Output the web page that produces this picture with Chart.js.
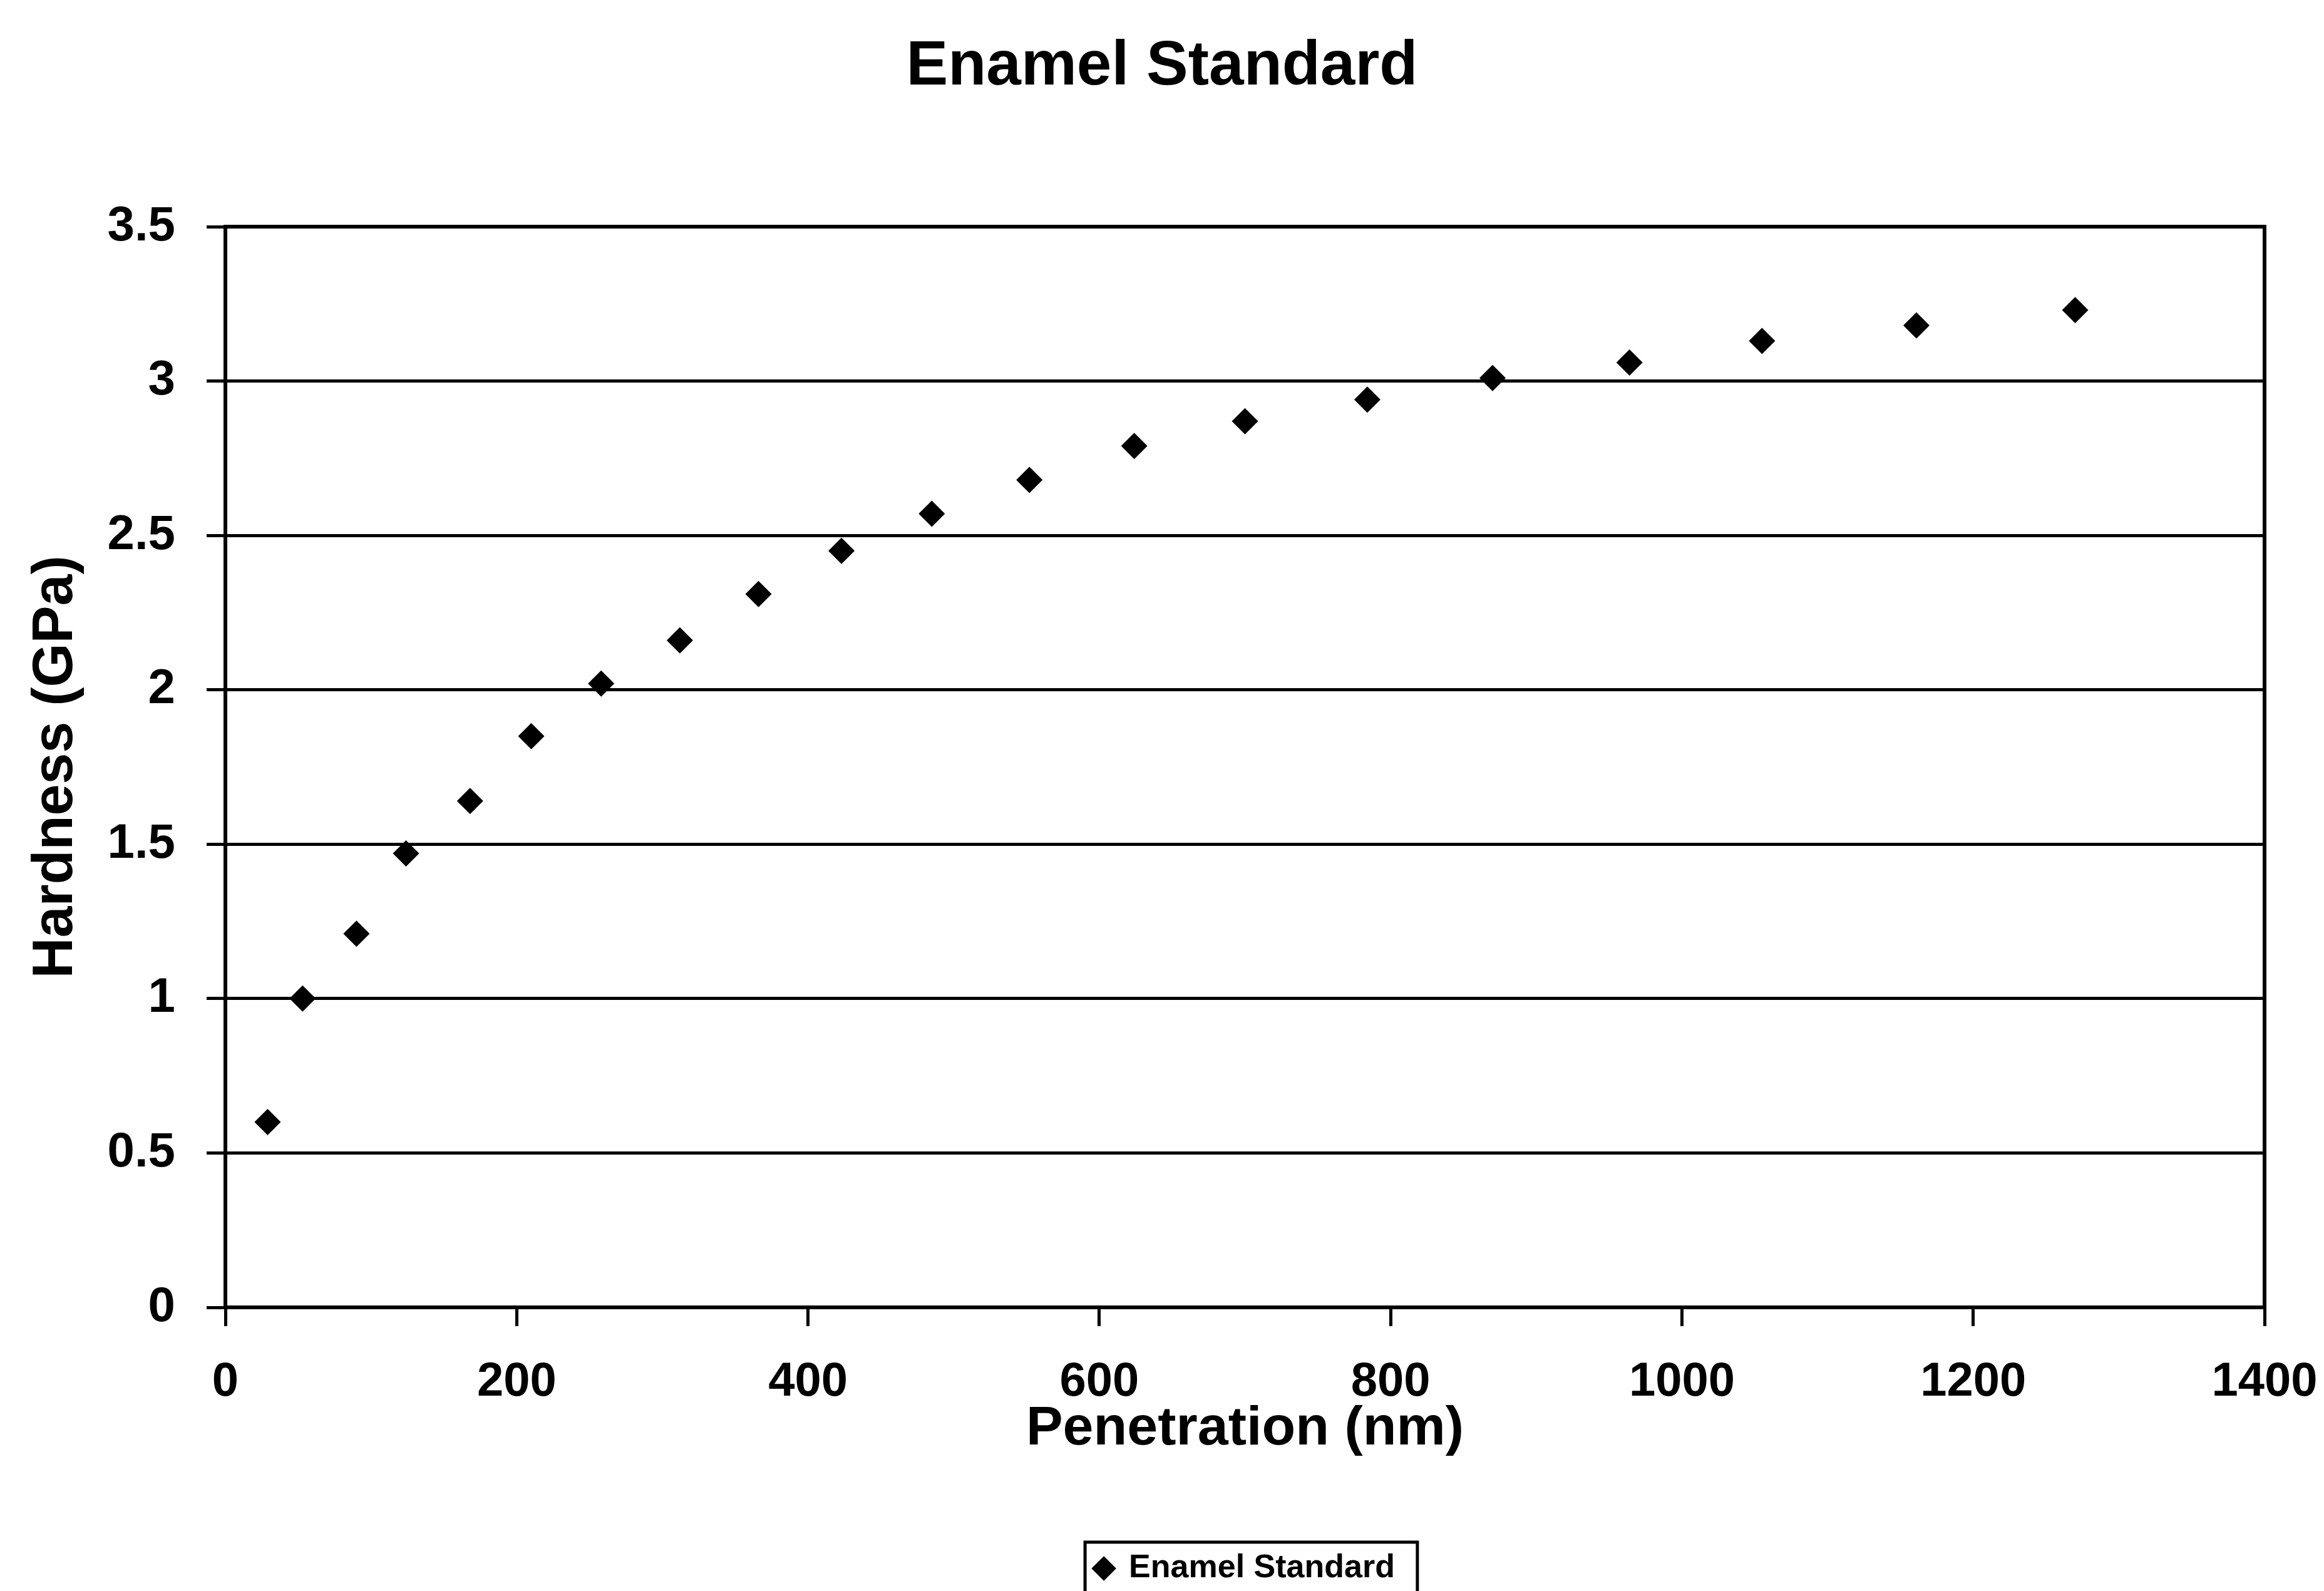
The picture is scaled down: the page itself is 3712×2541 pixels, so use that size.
<!DOCTYPE html>
<html>
<head>
<meta charset="utf-8">
<script src="https://cdn.jsdelivr.net/npm/chart.js@4/dist/chart.umd.min.js"></script>
<style>
  html, body { margin: 0; padding: 0; background: #fff; }
  canvas { display: block; }
</style>
</head>
<body>
<canvas id="chart" width="3712" height="2541"></canvas>
<script>
// values
const penetration = [29, 53, 90, 124, 168, 210, 258, 312, 366, 423, 485, 552, 624, 700, 784, 870, 964, 1055, 1161, 1270];
const hardness = [0.60, 1.00, 1.21, 1.47, 1.64, 1.85, 2.02, 2.16, 2.31, 2.45, 2.57, 2.68, 2.79, 2.87, 2.94, 3.01, 3.06, 3.13, 3.18, 3.23];
const xTicks = [0, 200, 400, 600, 800, 1000, 1200, 1400];
const yTicks = [0, 0.5, 1, 1.5, 2, 2.5, 3, 3.5];

const FONT = "'Liberation Sans', Arial, sans-serif";

// box around the plot area and around the legend item
const frames = {
    id: "frames",
    afterDraw: (chart) => {
        const ctx = chart.ctx;
        const a = chart.chartArea;
        ctx.save();
        ctx.strokeStyle = "#000";
        ctx.lineWidth = 6;
        ctx.strokeRect(a.left, a.top, a.right - a.left, a.bottom - a.top);

        const hb = chart.legend.legendHitBoxes[0];
        if (hb) {
            ctx.lineWidth = 5;
            ctx.strokeRect(hb.left - 16, hb.top - 16, hb.width + 52, chart.height - hb.top + 30);
        }
        ctx.restore();
    },
};

new Chart(document.getElementById("chart").getContext("2d"), {
    type: "scatter",
    data: {
        datasets: [{
            label: "Enamel Standard",
            data: penetration.map((x, i) => ({ x: x, y: hardness[i] })),
            backgroundColor: "#000",
            borderColor: "#000",
            borderWidth: 0,
            pointStyle: "rectRot",
            pointRadius: 21,
        }],
    },
    options: {
        responsive: false,
        animation: false,
        layout: {
            padding: 0,
        },
        plugins: {
            title: {
                display: true,
                text: "Enamel Standard",
                color: "#000",
                font: { family: FONT, size: 100, weight: "bold" },
                padding: { top: 47, bottom: 195 },
            },
            legend: {
                position: "bottom",
                fullSize: false,
                labels: {
                    color: "#000",
                    font: { family: FONT, size: 52, weight: "bold" },
                    usePointStyle: true,
                    pointStyle: "rectRot",
                    boxWidth: 28,
                    boxHeight: 28,
                    padding: 143,
                },
            },
            tooltip: { enabled: false },
        },
        scales: {
            x: {
                type: "linear",
                min: 0,
                max: 1400,
                afterBuildTicks: (scale) => {
                    scale.ticks = xTicks.map(v => ({ value: v }));
                },
                afterFit: (scale) => {
                    scale.height = 248;
                    scale.paddingLeft = 0;
                    scale.paddingRight = 95;
                },
                ticks: {
                    color: "#000",
                    font: { family: FONT, size: 76, weight: "bold" },
                    padding: 44,
                    callback: (v) => String(v),
                },
                grid: {
                    drawOnChartArea: false,
                    color: "#000",
                    lineWidth: 5,
                    tickLength: 30,
                },
                border: { color: "#000", width: 6 },
                title: {
                    display: true,
                    text: "Penetration (nm)",
                    color: "#000",
                    font: { family: FONT, size: 88, weight: "bold" },
                    padding: { top: 0, bottom: 0 },
                },
            },
            y: {
                type: "linear",
                min: 0,
                max: 3.5,
                afterBuildTicks: (scale) => {
                    scale.ticks = yTicks.map(v => ({ value: v }));
                },
                afterFit: (scale) => {
                    scale.width = 360;
                },
                ticks: {
                    color: "#000",
                    font: { family: FONT, size: 78, weight: "bold" },
                    padding: 50,
                    callback: (v) => String(v),
                },
                grid: {
                    color: "#000",
                    lineWidth: 5,
                    tickLength: 30,
                },
                border: { color: "#000", width: 6 },
                title: {
                    display: true,
                    text: "Hardness (GPa)",
                    color: "#000",
                    font: { family: FONT, size: 90, weight: "bold" },
                    padding: { top: 36, bottom: 0 },
                },
            },
        },
    },
    plugins: [frames],
});
</script>
</body>
</html>
